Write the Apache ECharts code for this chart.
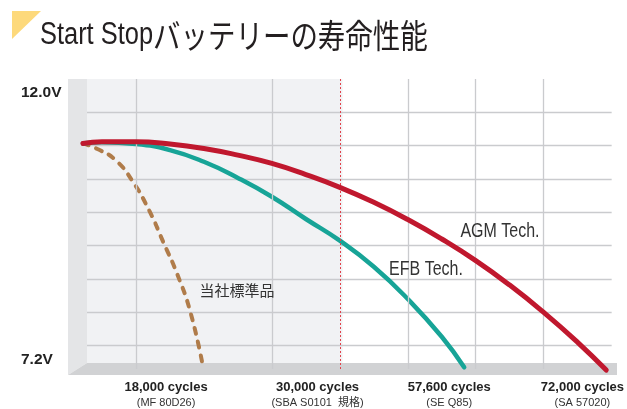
<!DOCTYPE html>
<html><head><meta charset="utf-8">
<script src="https://cdn.jsdelivr.net/npm/echarts@6/dist/echarts.min.js"></script>
<style>html,body{margin:0;padding:0;background:#fff}#c{width:627px;height:409px}</style>
</head><body><div id="c"></div>
<script>
// x: horizontal position in grid units (0..8), y: voltage (V)
const agmTech = [[0.22,10.84],[0.5,10.87],[1.0,10.87],[1.5,10.83],[2.0,10.75],[2.5,10.63],[3.0,10.48],[3.5,10.28],[4.0,10.05],[4.5,9.78],[5.0,9.47],[5.5,9.12],[6.0,8.73],[6.5,8.29],[7.0,7.80],[7.5,7.26],[7.92,6.76]];
const efbTech = [[0.22,10.84],[0.5,10.86],[1.0,10.83],[1.5,10.72],[2.0,10.51],[2.5,10.22],[3.0,9.88],[3.5,9.48],[4.0,9.09],[4.5,8.62],[5.0,8.04],[5.5,7.36],[5.83,6.81]];
const standard = [[0.22,10.84],[0.45,10.73],[0.7,10.54],[0.95,10.16],[1.2,9.62],[1.4,9.07],[1.6,8.51],[1.8,7.81],[1.99,6.80]];
const cycleLabels = ['18,000 cycles','30,000 cycles','57,600 cycles','72,000 cycles'];
const modelLabels = ['(MF 80D26)','(SBA S0101  規格)','(SE Q85)','(SA 57020)'];
const cyclePos = [1.443, 3.672, 5.61, 7.57];
const yTickLabels = [12.0, 7.2];
const vGrid = [1, 3, 5, 6, 7];
const refLine = [4];

const SANS = '"Liberation Sans Narrow","Liberation Sans",Arial,sans-serif';
const JP = '"Liberation Sans","Noto Sans CJK JP",sans-serif';

const chart = echarts.init(document.getElementById('c'), null, {renderer:'canvas'});
const gridLineColor = '#cacbce';

chart.setOption({
  animation:false,
  grid:{left:68, right:10, top:79, bottom:30},
  xAxis:{type:'value', min:0, max:8, interval:1,
    axisLine:{show:false}, axisTick:{show:false}, splitLine:{show:false},
    axisLabel:{customValues:cyclePos, margin:0,
      formatter:(v)=>{ let i=0, d=1e9; cyclePos.forEach((p,k)=>{ if(Math.abs(p-v)<d){d=Math.abs(p-v);i=k;} });
        return '{a|'+cycleLabels[i]+'}\n{b|'+modelLabels[i]+'}'; },
      rich:{a:{fontFamily:SANS, fontWeight:'bold', fontSize:13, color:'#222', lineHeight:16, align:'center'},
            b:{fontFamily:JP, fontSize:11, color:'#333', lineHeight:16, align:'center'}}}},
  yAxis:{type:'value', min:6.6, max:12, interval:0.6,
    axisLine:{show:false}, axisTick:{show:false},
    splitLine:{show:true, showMinLine:false, showMaxLine:false, lineStyle:{color:gridLineColor, width:1.3}},
    axisLabel:{customValues:yTickLabels, align:'left', margin:47, verticalAlign:'top', lineHeight:28,
      formatter:v=>v.toFixed(1)+'V', fontFamily:SANS, fontWeight:'bold', fontSize:15.5, color:'#222'}},
  graphic:[
    {type:'polygon', shape:{points:[[12,11],[41,11],[12,39]]}, style:{fill:'#fdd97b'}},
    {type:'text', x:40, y:35, scaleX:0.82, style:{text:'{a|Start Stop}{b|バッテリーの寿命性能}', verticalAlign:'middle',
      rich:{a:{fontFamily:SANS, fontSize:31, fill:'#231f20', verticalAlign:'middle'},
            b:{fontFamily:'"Noto Sans CJK JP",sans-serif', fontSize:33.5, fill:'#231f20', verticalAlign:'middle'}}}},
    {type:'rect', z:-10, shape:{x:87, y:79, width:255.5, height:284}, style:{fill:'#f1f2f4'}},
    {type:'polygon', z:1, shape:{points:[[68,79],[87,79],[87,363],[68,375]]}, style:{fill:'#e4e5e7'}},
    {type:'polygon', z:1, shape:{points:[[87,363],[617,363],[617,375],[68,375]]}, style:{fill:'#d1d2d4'}},
    {type:'text', z:6, x:237, y:290, style:{text:'当社標準品', font:'15px "Noto Sans CJK JP",sans-serif', fill:'#333', align:'center', verticalAlign:'middle'}},
    {type:'text', z:6, x:500, y:232, scaleX:0.82, style:{text:'AGM Tech.', font:'19.5px '+SANS, fill:'#333', align:'center', verticalAlign:'middle'}},
    {type:'text', z:6, x:426, y:270, scaleX:0.82, style:{text:'EFB Tech.', font:'19.5px '+SANS, fill:'#333', align:'center', verticalAlign:'middle'}}
  ],
  series:[
    {type:'line', name:'grid', z:1.5, data:[], silent:true,
      markLine:{silent:true, symbol:['none','none'], label:{show:false}, emphasis:{disabled:true},
        lineStyle:{color:gridLineColor, width:1.3, type:'solid'},
        data:vGrid.map(u => [{coord:[u,12]},{coord:[u,6.78]}])}},
    {type:'line', name:'ref', z:1.6, data:[], silent:true,
      markLine:{silent:true, symbol:['none','none'], label:{show:false}, emphasis:{disabled:true},
        lineStyle:{color:'#e0424b', width:1, type:[2,2]},
        data:refLine.map(u => [{coord:[u,12]},{coord:[u,6.78]}])}},
    {type:'line', name:'当社標準品', z:3, data:standard, smooth:0.5, showSymbol:false, silent:true,
      lineStyle:{color:'#b07c4a', width:4, type:[6,8], cap:'round'}},
    {type:'line', name:'EFB Tech.', z:4, data:efbTech, smooth:0.5, showSymbol:false, silent:true,
      lineStyle:{color:'#17a497', width:4.5, cap:'round'}},
    {type:'line', name:'AGM Tech.', z:5, data:agmTech, smooth:0.5, showSymbol:false, silent:true,
      lineStyle:{color:'#c0182e', width:5, cap:'round'}}
  ]
});
</script></body></html>
